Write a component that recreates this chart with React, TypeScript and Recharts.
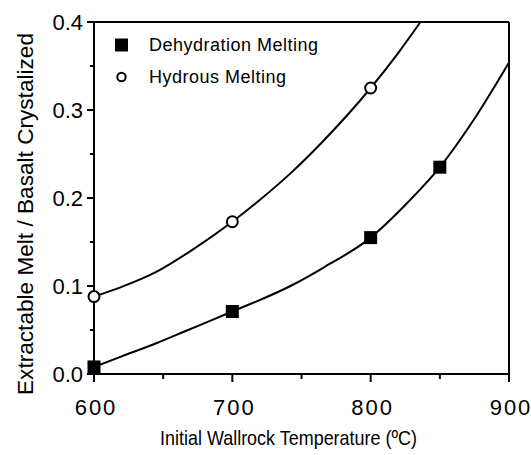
import {
  ComposedChart,
  Line,
  Scatter,
  XAxis,
  YAxis,
  Legend,
  ReferenceLine,
} from "recharts";

// measured points
const dehydTemps = [600, 700, 800, 850];
const dehydValues = [0.008, 0.071, 0.155, 0.235];
const hydTemps = [600, 700, 800];
const hydValues = [0.088, 0.173, 0.325];

// hand-drawn fitted curves
const dehydCurveTemps = [600, 620, 645, 668, 700, 742, 766, 800, 825, 850, 875, 900];
const dehydCurveValues = [0.008, 0.02, 0.035, 0.05, 0.071, 0.1, 0.121, 0.155, 0.192, 0.235, 0.29, 0.354];
const hydCurveTemps = [600, 620, 645, 670, 700, 720, 742, 764, 800, 820, 836];
const hydCurveValues = [0.088, 0.099, 0.116, 0.14, 0.173, 0.198, 0.228, 0.262, 0.325, 0.365, 0.4];

const xTicks = [600, 650, 700, 750, 800, 850, 900];
const yTicks = [0, 0.05, 0.1, 0.15, 0.2, 0.25, 0.3, 0.35, 0.4];

const zip = (t: number[], v: number[]) => t.map((x, i) => ({ t: x, v: v[i] }));

const dehydPoints = zip(dehydTemps, dehydValues);
const hydPoints = zip(hydTemps, hydValues);
const dehydCurve = zip(dehydCurveTemps, dehydCurveValues);
const hydCurve = zip(hydCurveTemps, hydCurveValues);

const SANS = "'Liberation Sans', Arial, Helvetica, sans-serif";

const XTick = ({ x, y, payload }: any) => {
  const major = payload.value % 100 === 0;
  return (
    <g>
      <line x1={x} x2={x} y1={y} y2={y + (major ? 8 : 5)} stroke="#000" strokeWidth={2} />
      {major && (
        <text x={x + 2} y={y + 41} textAnchor="middle" fontSize={22} letterSpacing={2} fontFamily={SANS} fill="#000">
          {payload.value}
        </text>
      )}
    </g>
  );
};

const YTick = ({ x, y, payload }: any) => {
  const v = payload.value;
  const major = Math.abs(Math.round(v * 10) - v * 10) < 1e-6;
  return (
    <g>
      <line x1={x} x2={x - (major ? 7 : 4)} y1={y} y2={y} stroke="#000" strokeWidth={2} />
      {major && (
        <text x={x - 11} y={y} dy="0.36em" textAnchor="end" fontSize={22} fontFamily={SANS} fill="#000">
          {v.toFixed(1)}
        </text>
      )}
    </g>
  );
};

const Square = ({ cx, cy }: any) => <rect x={cx - 6.5} y={cy - 6.5} width={13} height={13} fill="#000" />;
const Circle = ({ cx, cy }: any) => <circle cx={cx} cy={cy} r={5.5} fill="#fff" stroke="#000" strokeWidth={2} />;

const LegendBox = ({ payload }: any) => (
  <div style={{ fontFamily: SANS, fontSize: 18, color: "#000", lineHeight: "32px", letterSpacing: 0.5 }}>
    {(payload || [])
      .filter((p: any) => p.type !== "none")
      .map((p: any) => (
        <div key={p.value} style={{ display: "flex", alignItems: "center", height: 32 }}>
          <svg width={37} height={16}>
            {p.type === "square" ? (
              <rect x={3} y={1.5} width={13} height={13} fill="#000" />
            ) : (
              <circle cx={9.5} cy={8} r={4.2} fill="#fff" stroke="#000" strokeWidth={2} />
            )}
          </svg>
          <span>{p.value}</span>
        </div>
      ))}
  </div>
);

export default function App() {
  return (
    <div style={{ position: "absolute", left: 0, top: 0, background: "#fff" }}>
      <ComposedChart width={531} height={455} margin={{ top: 22, right: 22, left: 0, bottom: 0 }}>
        <XAxis
          type="number"
          dataKey="t"
          domain={[600, 900]}
          ticks={xTicks}
          interval={0}
          tick={<XTick />}
          tickLine={false}
          tickSize={0}
          tickMargin={0}
          height={81}
          axisLine={{ stroke: "#000", strokeWidth: 2 }}
          allowDuplicatedCategory={false}
          label={{
            content: () => (
              <text
                x={160}
                y={445}
                textLength={257}
                lengthAdjust="spacingAndGlyphs"
                fontSize={21}
                fontFamily={SANS}
                fill="#000"
              >
                Initial Wallrock Temperature (ºC)
              </text>
            ),
          }}
        />
        <YAxis
          type="number"
          dataKey="v"
          domain={[0, 0.4]}
          allowDataOverflow
          ticks={yTicks}
          interval={0}
          tick={<YTick />}
          tickLine={false}
          tickSize={0}
          tickMargin={0}
          width={94}
          axisLine={{ stroke: "#000", strokeWidth: 2 }}
          label={{
            content: () => (
              <text
                x={33}
                y={395}
                transform="rotate(-90 33 395)"
                textLength={362}
                lengthAdjust="spacingAndGlyphs"
                fontSize={22}
                fontFamily={SANS}
                fill="#000"
              >
                Extractable Melt / Basalt Crystalized
              </text>
            ),
          }}
        />
        <ReferenceLine y={0.4} stroke="#000" strokeWidth={2} />
        <ReferenceLine x={900} stroke="#000" strokeWidth={2} />
        <Line
          data={dehydCurve}
          dataKey="v"
          type="monotone"
          stroke="#000"
          strokeWidth={2}
          dot={false}
          activeDot={false}
          legendType="none"
          isAnimationActive={false}
        />
        <Line
          data={hydCurve}
          dataKey="v"
          type="monotone"
          stroke="#000"
          strokeWidth={2}
          dot={false}
          activeDot={false}
          legendType="none"
          isAnimationActive={false}
        />
        <Scatter
          name="Dehydration Melting"
          data={dehydPoints}
          dataKey="v"
          legendType="square"
          shape={<Square />}
          isAnimationActive={false}
        />
        <Scatter
          name="Hydrous Melting"
          data={hydPoints}
          dataKey="v"
          legendType="circle"
          shape={<Circle />}
          isAnimationActive={false}
        />
        <Legend
          layout="vertical"
          align="center"
          verticalAlign="middle"
          content={<LegendBox />}
          wrapperStyle={{ position: "absolute", left: 112, top: 29, width: "auto" }}
        />
      </ComposedChart>
    </div>
  );
}
